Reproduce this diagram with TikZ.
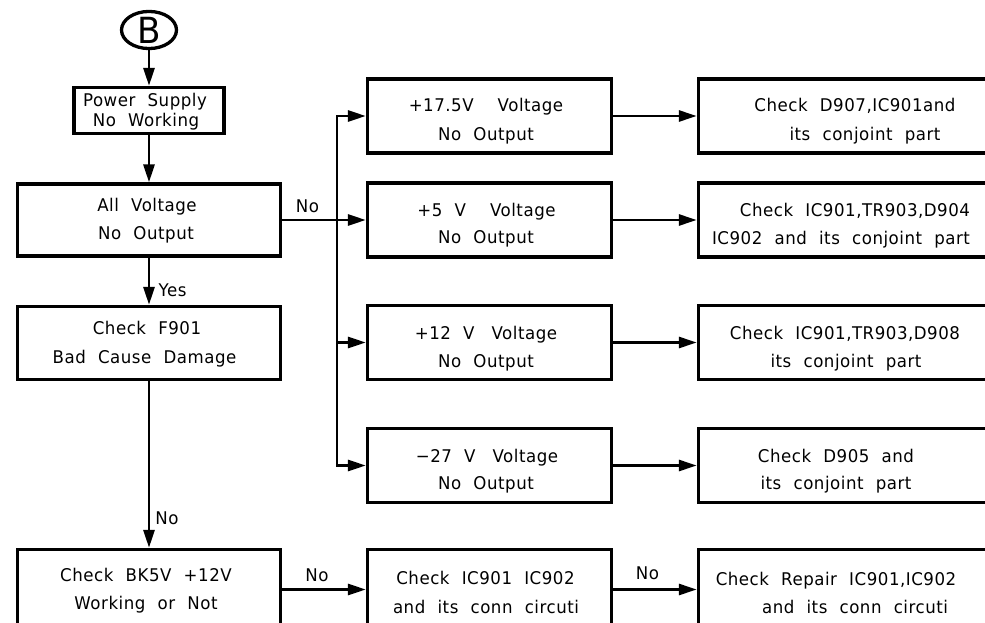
\documentclass[tikz,border=0pt]{standalone}
\usepackage{fontspec}
\setmainfont{DejaVu Sans}[LetterSpace=3,WordSpace=2.1,FakeStretch=0.95]
\usetikzlibrary{arrows.meta,shapes.geometric}
\newcommand\mytxt[4]{\node[txt] (#1) at (#2,#3) {#4};}
\begin{document}
\begin{tikzpicture}[x=1pt,y=-1pt,
  box/.style={draw,line width=3.3pt,rectangle,inner sep=0pt},
  txt/.style={anchor=base,inner sep=0pt,font=\fontsize{17.5}{20}\selectfont},
  arr/.style={line width=2.9pt,-{Triangle[length=18pt,width=11pt]}},
]
\useasboundingbox (0,0) rectangle (985,623);
\clip (0,0) rectangle (985,623);
% start symbol
\node[draw,ellipse,line width=3.3pt,minimum width=55pt,minimum height=37pt,inner sep=0pt,font=\fontsize{36}{36}\selectfont] (B) at (149,30) {B};
% left column
\node[box,minimum width=150,minimum height=46] (pw) at (149,110.5) {};
\node[box,minimum width=263,minimum height=72] (av) at (149,220) {};
\node[box,minimum width=263,minimum height=73] (f9) at (149,343) {};
\node[box,minimum width=263,minimum height=80] (bk) at (149,589.5) {};
% middle column
\node[box,minimum width=244,minimum height=74] (m1) at (489.5,116) {};
\node[box,minimum width=244,minimum height=74] (m2) at (489.5,220) {};
\node[box,minimum width=244,minimum height=74] (m3) at (489.5,342.5) {};
\node[box,minimum width=244,minimum height=74] (m4) at (489.5,465.5) {};
\node[box,minimum width=244,minimum height=80] (m5) at (489.5,589.5) {};
% right column
\node[box,minimum width=320,minimum height=74] (r1) at (858.4,116) {};
\node[box,minimum width=320,minimum height=74] (r2) at (858.4,220) {};
\node[box,minimum width=320,minimum height=74] (r3) at (858.4,342.5) {};
\node[box,minimum width=320,minimum height=74] (r4) at (858.4,465.5) {};
\node[box,minimum width=320,minimum height=80] (r5) at (858.4,589.5) {};
% texts
\mytxt{pwa}{145}{107}{Power Supply}
\mytxt{pwb}{146}{127}{No Working}
\mytxt{ava}{147}{211}{All Voltage}
\mytxt{avb}{146}{239}{No Output}
\mytxt{f9a}{147}{334}{Check F901}
\mytxt{f9b}{144.5}{363}{Bad Cause Damage}
\mytxt{bka}{146}{581}{Check BK5V +12V}
\mytxt{bkb}{146}{609}{Working or Not}
\mytxt{m1a}{486}{112}{+17.5V\hspace{24pt}Voltage}
\mytxt{m1b}{486}{140}{No Output}
\mytxt{m2a}{486.5}{216}{+5 V\hspace{24pt}Voltage}
\mytxt{m2b}{486}{243}{No Output}
\mytxt{m3a}{486}{339}{+12 V\hspace{17pt}Voltage}
\mytxt{m3b}{486}{367}{No Output}
\mytxt{m4a}{487}{462}{−27 V\hspace{17pt}Voltage}
\mytxt{m4b}{486}{489}{No Output}
\mytxt{m5a}{485.5}{584}{Check IC901 IC902}
\mytxt{m5b}{486}{613}{and its conn circuti}
\mytxt{r1a}{855}{112}{Check D907,IC901and}
\mytxt{r1b}{865}{140}{its conjoint part}
\mytxt{r2a}{855}{216}{Check IC901,TR903,D904}
\mytxt{r2b}{841}{244}{IC902 and its conjoint part}
\mytxt{r3a}{845}{339}{Check IC901,TR903,D908}
\mytxt{r3b}{846}{367}{its conjoint part}
\mytxt{r4a}{836}{462}{Check D905 and}
\mytxt{r4b}{836}{489}{its conjoint part}
\mytxt{r5a}{836}{585}{Check Repair IC901,IC902}
\mytxt{r5b}{855}{613}{and its conn circuti}
% connector labels
\mytxt{yes}{172.5}{296}{Yes}
\mytxt{no1}{307.5}{212}{No}
\mytxt{no2}{167}{524}{No}
\mytxt{no3}{317}{581}{No}
\mytxt{no4}{647.5}{579}{No}
% connectors
\draw[arr] (B) -- (pw);
\draw[arr] (pw) -- (av);
\draw[arr] (av) -- (f9);
\draw[arr] (f9) -- (bk);
\draw[arr] (av) -- (m2);
\coordinate (bt) at (337,116);
\draw[arr] (m4.west -| bt) -- (bt) -- (m1.west);
\draw[arr] (bt) |- (m4.west);
\draw[arr] (m3.west -| bt) -- (m3.west);
\draw[arr] (m1) -- (r1);
\draw[arr] (m2) -- (r2);
\draw[arr] (m3) -- (r3);
\draw[arr] (m4) -- (r4);
\draw[arr] (bk) -- (m5);
\draw[arr] (m5) -- (r5);
\end{tikzpicture}
\end{document}
